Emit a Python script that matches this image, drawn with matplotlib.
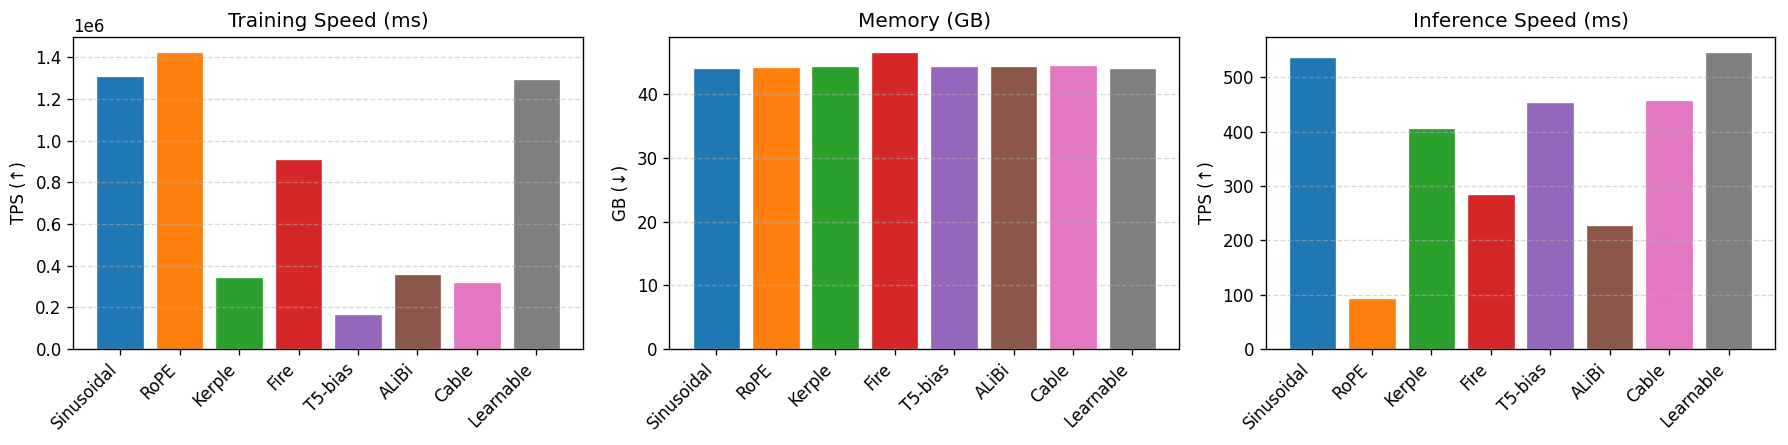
import numpy as np
import matplotlib
matplotlib.use('Agg')
import matplotlib.pyplot as plt

methods = ['Sinusoidal', 'RoPE', 'Kerple', 'Fire', 'T5-bias', 'ALiBi', 'Cable', 'Learnable']
train_tps = [1.312e6, 1.427e6, 0.346e6, 0.911e6, 0.167e6, 0.360e6, 0.322e6, 1.296e6]
memory_gb = [44.18, 44.34, 44.44, 46.70, 44.44, 44.39, 44.65, 44.18]
infer_tps = [538, 93.4, 407, 285.6, 455, 228.5, 459, 547]

colors = plt.rcParams['axes.prop_cycle'].by_key()['color'][:len(methods)]

fig, axes = plt.subplots(1, 3, figsize=(1788 / 120, 445 / 120), dpi=120)

panels = [
    (train_tps, 'Training Speed (ms)', 'TPS (↑)'),
    (memory_gb, 'Memory (GB)', 'GB (↓)'),
    (infer_tps, 'Inference Speed (ms)', 'TPS (↑)'),
]

for ax, (vals, title, ylabel) in zip(axes, panels):
    x = np.arange(len(methods))
    ax.bar(x, vals, color=colors, edgecolor='white', linewidth=0.8)
    ax.set_title(title)
    ax.set_ylabel(ylabel)
    ax.set_xticks(x)
    ax.set_xticklabels(methods, rotation=45, ha='right')
    ax.grid(axis='y', linestyle='--', alpha=0.5)

fig.subplots_adjust(left=0.041, right=0.993, bottom=0.216, top=0.917, wspace=0.169)
fig.savefig('out.png', dpi=120)
